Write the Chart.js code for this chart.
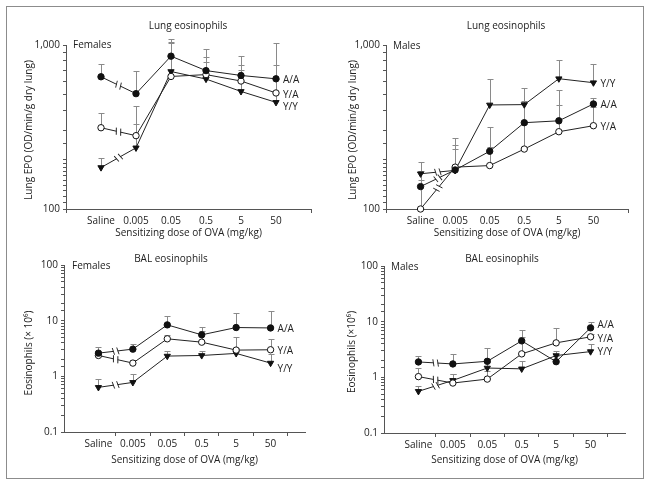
<!DOCTYPE html>
<html lang="en">
<head>
<meta charset="UTF-8">
<title>Lung and BAL eosinophils</title>
<script src="https://cdn.jsdelivr.net/npm/chart.js"></script>
<style>
  body { margin: 0; background: #fff; }
  #frame { position: relative; width: 651px; height: 486px; overflow: hidden; }
  #frame .box { position: absolute; left: 6px; top: 6px; width: 636px; height: 471px; border: 1px solid #8c8c8c; }
  canvas { position: absolute; }
</style>
</head>
<body>
<div id="frame">
  <div class="box"></div>
  <canvas id="lungF"></canvas>
  <canvas id="lungM"></canvas>
  <canvas id="balF"></canvas>
  <canvas id="balM"></canvas>
</div>
<script>
// categories
const doses = ['Saline', '0.005', '0.05', '0.5', '5', '50'];
const seriesNames = ['A/A', 'Y/A', 'Y/Y'];

// lung EPO, females
const lungF_AA = [640, 505, 855, 698, 652, 622];
const lungF_YA = [313, 280, 643, 660, 603, 510];
const lungF_YY = [179, 236, 689, 620, 521, 447];
const lungF_AA_err = [767, 698, 1082, 941, 858, 1024];
const lungF_YA_err = [385, 425, 1048, 840, 760, 757];
const lungF_YY_err = [206, 330, 1024, 790, 700, 620];

// lung EPO, males
const lungM_AA = [137, 173, 225, 336, 345, 437];
const lungM_YA = [100, 180, 184, 232, 296, 322];
const lungM_YY = [164, 172, 431, 433, 623, 589];
const lungM_AA_err = [170, 232, 318, 456, 532, 477];
const lungM_YA_err = [150, 246, 240, 330, 431, 420];
const lungM_YY_err = [194, 270, 618, 545, 811, 767];

// BAL eosinophils, females
const balF_AA = [2.61, 3.08, 8.4, 5.57, 7.53, 7.4];
const balF_YA = [2.37, 1.73, 4.72, 4.11, 2.96, 3.0];
const balF_YY = [0.633, 0.778, 2.31, 2.37, 2.58, 1.73];
const balF_AA_err = [3.3, 3.8, 12.0, 6.4, 13.6, 14.9];
const balF_YA_err = [2.9, 2.0, 5.6, 7.7, 5.0, 4.7];
const balF_YY_err = [0.89, 1.1, 2.8, 2.9, 3.2, 2.5];

// BAL eosinophils, males
const balM_AA = [1.89, 1.74, 1.94, 4.52, 1.91, 7.75];
const balM_YA = [1.03, 0.79, 0.93, 2.64, 4.16, 5.34];
const balM_YY = [0.56, 0.88, 1.47, 1.42, 2.46, 2.9];
const balM_AA_err = [2.46, 2.64, 3.3, 7.2, 2.4, 10.0];
const balM_YA_err = [1.47, 1.15, 1.3, 5.4, 7.75, 6.0];
const balM_YY_err = [0.71, 1.17, 1.9, 2.0, 3.0, 3.9];

const FONT = '"Open Sans", sans-serif';
const INK = '#222';
const M_LEFT = 62, M_TOP = 40, M_RIGHT = 24, M_BOTTOM = 40;

const panels = [
  { id: 'lungF', title: 'Lung eosinophils', sex: 'Females', yTitle: 'Lung EPO (OD/min/g dry lung)',
    min: 100, max: 1000, area: [66, 45, 311, 209], midTicks: false,
    titlePos: [188, 26], sexPos: [73, 45], yTitlePos: [29, 130], xTitleY: 233,
    labelShift: [0, 1, 4],
    data: [lungF_AA, lungF_YA, lungF_YY], err: [lungF_AA_err, lungF_YA_err, lungF_YY_err] },
  { id: 'lungM', title: 'Lung eosinophils', sex: 'Males', yTitle: 'Lung EPO (OD/min/g dry lung)',
    min: 100, max: 1000, area: [386, 45, 628, 209], midTicks: false,
    titlePos: [506, 26], sexPos: [393, 46], yTitlePos: [353, 130], xTitleY: 233,
    labelShift: [0, 0, 0],
    data: [lungM_AA, lungM_YA, lungM_YY], err: [lungM_AA_err, lungM_YA_err, lungM_YY_err] },
  { id: 'balF', title: 'BAL eosinophils', sex: 'Females', yTitle: 'Eosinophils (× 10⁶)',
    min: 0.1, max: 100, area: [64, 265, 305, 432], midTicks: true,
    titlePos: [171, 259], sexPos: [72, 266], yTitlePos: [29, 353], xTitleY: 460,
    labelShift: [0, 0, 5],
    data: [balF_AA, balF_YA, balF_YY], err: [balF_AA_err, balF_YA_err, balF_YY_err] },
  { id: 'balM', title: 'BAL eosinophils', sex: 'Males', yTitle: 'Eosinophils (×10⁶)',
    min: 0.1, max: 100, area: [384, 266, 625, 433], midTicks: true,
    titlePos: [502, 259], sexPos: [391, 267], yTitlePos: [352, 352], xTitleY: 460,
    labelShift: [-4, 1, 0],
    data: [balM_AA, balM_YA, balM_YY], err: [balM_AA_err, balM_YA_err, balM_YY_err] }
];

const markers = [
  { pointStyle: 'circle', radius: 3.2, fill: '#111', rotation: 0 },
  { pointStyle: 'circle', radius: 3.2, fill: '#fff', rotation: 0 },
  { pointStyle: 'triangle', radius: 3.6, fill: '#111', rotation: 180 }
];

function pad(arr) { return [null].concat(arr, [null]); }

function fmt(v) {
  if (v >= 1000) return v.toLocaleString('en-US');
  return String(v);
}

// upper error bars, drawn through the y scale
const errorBars = {
  id: 'errorBars',
  beforeDatasetsDraw(chart) {
    const ctx = chart.ctx, y = chart.scales.y;
    ctx.save();
    ctx.strokeStyle = '#8a8a8a';
    ctx.lineWidth = 1;
    chart.data.datasets.forEach((ds, di) => {
      const meta = chart.getDatasetMeta(di);
      ds.errUp.forEach((e, i) => {
        if (e == null) return;
        const pt = meta.data[i];
        const x = Math.round(pt.x) + 0.5;
        const yt = Math.round(y.getPixelForValue(e)) + 0.5;
        ctx.beginPath();
        ctx.moveTo(x, pt.y);
        ctx.lineTo(x, yt);
        ctx.moveTo(x - 3, yt);
        ctx.lineTo(x + 3, yt);
        ctx.stroke();
      });
    });
    ctx.restore();
  }
};

// axis-break marks on the saline segment, plus texts
const decorations = {
  id: 'decorations',
  afterDatasetsDraw(chart, args, opts) {
    const ctx = chart.ctx;
    const p = opts.panel;
    ctx.save();
    chart.data.datasets.forEach((ds, di) => {
      const meta = chart.getDatasetMeta(di);
      const a = meta.data[1], b = meta.data[2];
      const mx = (a.x + b.x) / 2, my = (a.y + b.y) / 2;
      const ang = Math.atan2(b.y - a.y, b.x - a.x);
      ctx.translate(mx, my);
      ctx.rotate(ang);
      ctx.fillStyle = '#fff';
      ctx.fillRect(-2, -2, 4, 4);
      ctx.strokeStyle = INK;
      ctx.lineWidth = 0.9;
      ctx.beginPath();
      ctx.moveTo(-3, -3.5); ctx.lineTo(-1.5, 3.5);
      ctx.moveTo(1.5, -3.5); ctx.lineTo(3, 3.5);
      ctx.stroke();
      ctx.setTransform(1, 0, 0, 1, 0, 0);
      // series label at end
      const last = meta.data[doses.length];
      ctx.fillStyle = INK;
      ctx.font = '10px ' + FONT;
      ctx.textAlign = 'left';
      ctx.textBaseline = 'middle';
      ctx.fillText(ds.label, last.x + 7, last.y + 1 + p.labelShift[di]);
    });
    const ox = p.area[0] - M_LEFT, oy = p.area[1] - M_TOP;
    ctx.fillStyle = INK;
    ctx.font = '10px ' + FONT;
    ctx.textBaseline = 'middle';
    ctx.textAlign = 'center';
    ctx.fillText(p.title, p.titlePos[0] - ox, p.titlePos[1] - oy);
    ctx.fillText('Sensitizing dose of OVA (mg/kg)', (p.area[0] + p.area[2]) / 2 - ox, p.xTitleY - oy);
    ctx.textAlign = 'left';
    ctx.fillText(p.sex, p.sexPos[0] - ox, p.sexPos[1] - oy);
    ctx.translate(p.yTitlePos[0] - ox, p.yTitlePos[1] - oy);
    ctx.rotate(-Math.PI / 2);
    ctx.textAlign = 'center';
    ctx.fillText(p.yTitle, 0, 0);
    ctx.restore();
  }
};

panels.forEach(p => {
  const cv = document.getElementById(p.id);
  const w = p.area[2] - p.area[0] + M_LEFT + M_RIGHT;
  const h = p.area[3] - p.area[1] + M_TOP + M_BOTTOM;
  cv.width = w; cv.height = h;
  cv.style.left = (p.area[0] - M_LEFT) + 'px';
  cv.style.top = (p.area[1] - M_TOP) + 'px';
  cv.style.width = w + 'px'; cv.style.height = h + 'px';

  const datasets = p.data.map((vals, i) => ({
    label: seriesNames[i],
    data: pad(vals),
    errUp: pad(p.err[i]),
    borderColor: INK,
    borderWidth: 1,
    pointStyle: markers[i].pointStyle,
    pointRadius: markers[i].radius,
    pointRotation: markers[i].rotation,
    pointBackgroundColor: markers[i].fill,
    pointBorderColor: '#111',
    pointBorderWidth: 1,
    tension: 0,
    clip: false
  }));

  new Chart(cv, {
    type: 'line',
    data: { labels: pad(doses).map(d => d == null ? '' : d), datasets },
    options: {
      responsive: false,
      animation: false,
      layout: { padding: { left: 0, top: M_TOP, right: M_RIGHT, bottom: 0 } },
      plugins: {
        legend: { display: false },
        tooltip: { enabled: false },
        decorations: { panel: p }
      },
      scales: {
        x: {
          type: 'category',
          offset: false,
          afterFit: s => { s.height = M_BOTTOM; },
          border: { display: true, color: '#555', width: 1 },
          grid: {
            offset: p.midTicks,
            drawOnChartArea: false,
            drawTicks: true,
            tickLength: 4,
            color: c => {
              const n = doses.length + 1;
              if (p.midTicks) return c.index <= 1 ? 'rgba(0,0,0,0)' : '#555';
              return (c.index === 0 || c.index === n) ? '#555' : 'rgba(0,0,0,0)';
            }
          },
          ticks: { color: INK, font: { family: FONT, size: 10 }, padding: 2, maxRotation: 0, autoSkip: false }
        },
        y: {
          type: 'logarithmic',
          min: p.min,
          max: p.max,
          afterFit: s => { s.width = M_LEFT; },
          border: { display: true, color: '#555', width: 1 },
          grid: { drawOnChartArea: false, drawTicks: true, tickLength: 3, color: '#555' },
          ticks: {
            color: INK,
            font: { family: FONT, size: 10 },
            padding: 3,
            autoSkip: false,
            callback: v => {
              const l = Math.log10(v);
              return Math.abs(l - Math.round(l)) < 1e-9 ? fmt(v) : '';
            }
          }
        }
      }
    },
    plugins: [errorBars, decorations]
  });
});
</script>
</body>
</html>
